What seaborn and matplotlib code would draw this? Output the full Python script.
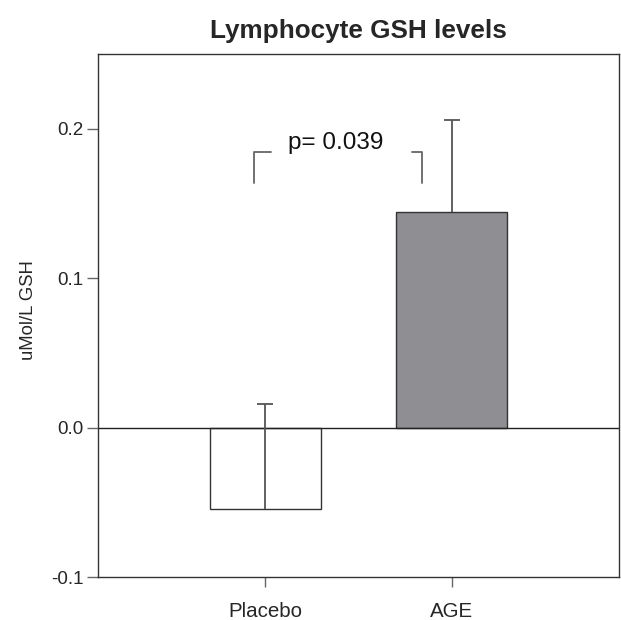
import matplotlib
matplotlib.use("Agg")
import matplotlib.pyplot as plt
import seaborn as sns
import pandas as pd

categories = ["Placebo", "AGE"]
means = [-0.0547, 0.1445]
errors_up = [0.0704, 0.061]
bar_colors = ["#ffffff", "#8e8e93"]
title = "Lymphocyte GSH levels"
ylabel = "uMol/L GSH"
yticks = [-0.1, 0.0, 0.1, 0.2]
ytick_labels = ["-0.1", "0.0", "0.1", "0.2"]
p_text = "p= 0.039"

sns.set_style("ticks")
plt.rcParams['font.family'] = ['Liberation Sans', 'DejaVu Sans']

fig = plt.figure(figsize=(6.21, 6.20), dpi=100)
ax = fig.add_axes([98/621, 1-577/620, (619-98)/621, (577-54)/620])

df = pd.DataFrame({"group": categories, "value": means})
sns.barplot(data=df, x="group", y="value", hue="group", palette=bar_colors,
            order=categories, errorbar=None, width=0.6, edgecolor="#333333",
            linewidth=1.0, legend=False, ax=ax, saturation=1)

eb = ax.errorbar(range(len(categories)), means, yerr=[[0]*len(means), errors_up],
                 fmt="none", ecolor="#555555", elinewidth=1.3, capsize=6, capthick=1.3)
# hide the lower caps (only upper whisker drawn)
eb[1][0].set_visible(False)

ax.axhline(0, color="#222222", lw=1.0, zorder=1)

# significance bracket
bk = dict(color="#666666", lw=1.3)
ax.plot([-0.064, -0.064, 0.032], [0.1638, 0.1847, 0.1847], **bk)
ax.plot([0.789, 0.843, 0.843], [0.1847, 0.1847, 0.1638], **bk)
ax.text(0.376, 0.1907, p_text, ha="center", va="center", fontsize=17.5, color="#111111")

ax.set_xlim(-0.9, 1.9)
ax.set_ylim(-0.1, 0.25)
ax.set_yticks(yticks)
ax.set_yticklabels(ytick_labels)
ax.set_xlabel("")
ax.set_ylabel(ylabel, fontsize=13.3)
ax.yaxis.set_label_coords(-0.118, 0.51)
ax.set_title(title, fontsize=18.8, fontweight="bold", pad=11.5)
ax.tick_params(axis="y", length=8, width=1, color="#666666", labelsize=13.5, pad=2.5)
ax.tick_params(axis="x", length=7, width=1, color="#666666", labelsize=14.8, pad=11)
for s in ax.spines.values():
    s.set_visible(True)
    s.set_color("#333333")
    s.set_linewidth(1.0)

fig.savefig("out.png", dpi=100)
